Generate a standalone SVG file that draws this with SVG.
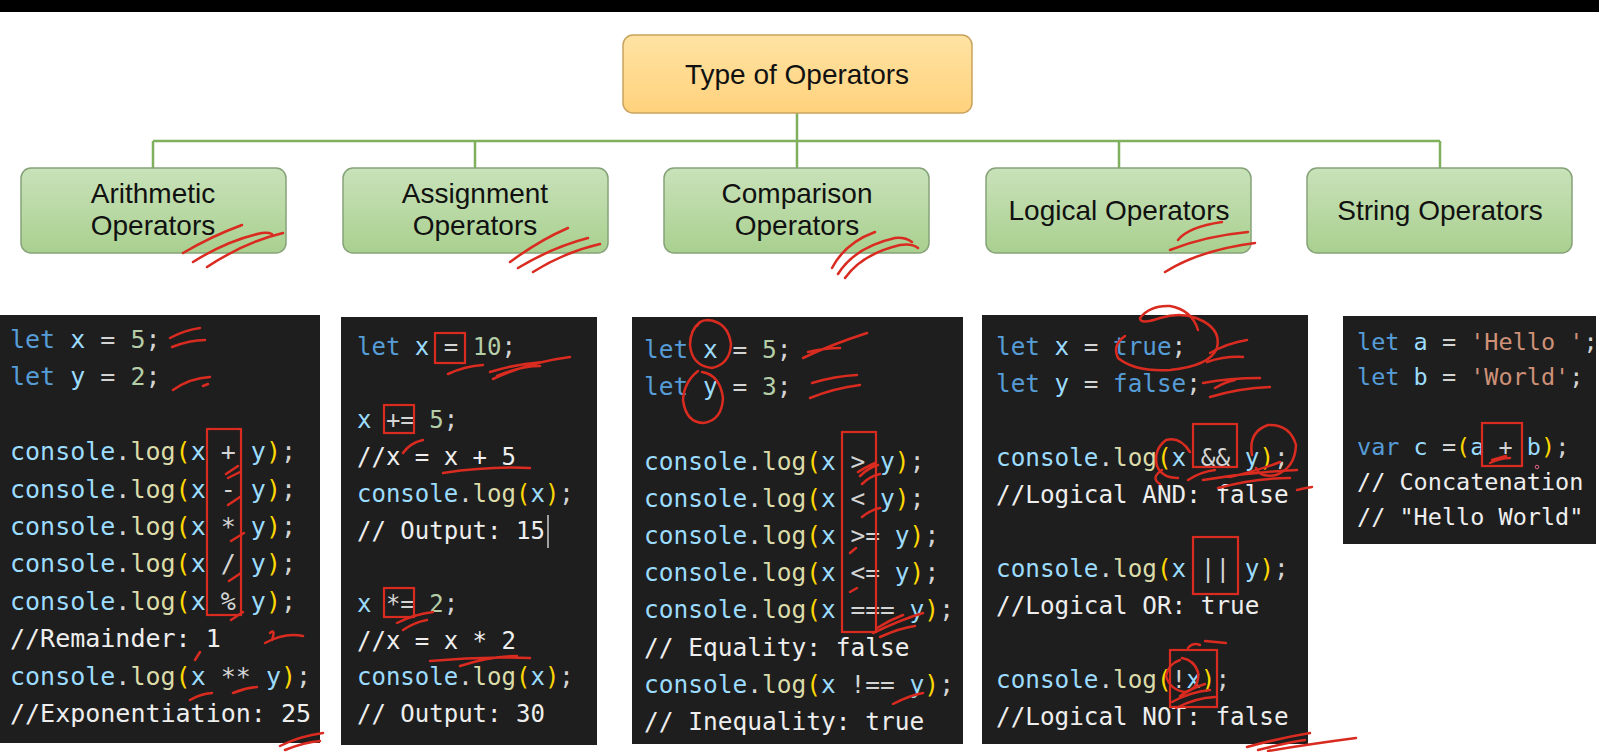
<svg xmlns="http://www.w3.org/2000/svg" width="1599" height="752" viewBox="0 0 1599 752">
<defs>
<linearGradient id="gTop" x1="0" y1="0" x2="0" y2="1"><stop offset="0" stop-color="#FFE3A3"/><stop offset="1" stop-color="#FFD27C"/></linearGradient>
<linearGradient id="gCat" x1="0" y1="0" x2="0" y2="1"><stop offset="0" stop-color="#C9E2BA"/><stop offset="1" stop-color="#A9D08F"/></linearGradient>
</defs>
<style>
.lbl{font-family:"Liberation Sans",Arial,sans-serif;font-size:28px;fill:#111;text-anchor:middle}
.cat{fill:url(#gCat);stroke:#86A278;stroke-width:1.5}
.conn{stroke:#7FB05C;stroke-width:2.5;fill:none}
.panel{fill:#1E1E1E}
.code{font-family:"DejaVu Sans Mono","Liberation Mono",monospace;white-space:pre;fill:#D4D4D4}
.k{fill:#569CD6}.v{fill:#9CDCFE}.n{fill:#B5CEA8}.f{fill:#DCDCAA}.p{fill:#FFD700}.c{fill:#EEEEEE}.s{fill:#CE9178}
.r{fill:none;stroke:#D92B20;stroke-width:2.5;stroke-linecap:round;stroke-linejoin:round}
.rb{fill:none;stroke:#D92B20;stroke-width:2.2}
</style>
<rect width="1599" height="752" fill="#FFFFFF"/>
<rect x="0" y="0" width="1599" height="12" fill="#000000"/>

<g id="connectors">
<path class="conn" d="M797,113 V141 M153,141 H1440 M153,141 V168 M475,141 V168 M797,141 V168 M1119,141 V168 M1440,141 V168"/>
</g>

<g id="node-root">
<rect x="623" y="35" width="349" height="78" rx="10" fill="url(#gTop)" stroke="#C9A35C" stroke-width="1.5"/>
<text class="lbl" x="797" y="84">Type of Operators</text>
</g>
<g id="node-arithmetic">
<rect class="cat" x="21" y="168" width="265" height="85" rx="10"/>
<text class="lbl" x="153" y="203">Arithmetic</text>
<text class="lbl" x="153" y="235">Operators</text>
<path class="r" d="M183,253 Q212,236 242,225 M193,262 Q228,240 262,233 Q268,232 272,234 M207,267 Q245,242 283,233"/>
</g>
<g id="node-assignment">
<rect class="cat" x="343" y="168" width="265" height="85" rx="10"/>
<text class="lbl" x="475" y="203">Assignment</text>
<text class="lbl" x="475" y="235">Operators</text>
<path class="r" d="M510,262 Q540,240 568,228 M518,268 Q553,247 588,238 M533,272 Q565,252 600,244"/>
</g>
<g id="node-comparison">
<rect class="cat" x="664" y="168" width="265" height="85" rx="10"/>
<text class="lbl" x="797" y="203">Comparison</text>
<text class="lbl" x="797" y="235">Operators</text>
<path class="r" d="M832,268 Q845,243 875,232 M838,274 Q855,247 895,238 Q905,237 912,242 M845,278 Q862,254 900,245 Q912,243 918,248"/>
</g>
<g id="node-logical">
<rect class="cat" x="986" y="168" width="265" height="85" rx="10"/>
<text class="lbl" x="1119" y="220">Logical Operators</text>
<path class="r" d="M1178,240 Q1188,227 1222,222 M1170,250 Q1205,236 1248,232 M1165,272 Q1200,250 1255,243"/>
</g>
<g id="node-string">
<rect class="cat" x="1307" y="168" width="265" height="85" rx="10"/>
<text class="lbl" x="1440" y="220">String Operators</text>
</g>

<g id="panel-arithmetic">
<rect class="panel" x="0" y="315" width="320" height="428"/>
<g class="code" font-size="25">
<text x="10" y="348"><tspan class="k">let</tspan> <tspan class="v">x</tspan> = <tspan class="n">5</tspan>;</text>
<text x="10" y="385.4"><tspan class="k">let</tspan> <tspan class="v">y</tspan> = <tspan class="n">2</tspan>;</text>
<text x="10" y="460.2"><tspan class="v">console</tspan>.<tspan class="f">log</tspan><tspan class="p">(</tspan><tspan class="v">x</tspan> + <tspan class="v">y</tspan><tspan class="p">)</tspan>;</text>
<text x="10" y="497.6"><tspan class="v">console</tspan>.<tspan class="f">log</tspan><tspan class="p">(</tspan><tspan class="v">x</tspan> - <tspan class="v">y</tspan><tspan class="p">)</tspan>;</text>
<text x="10" y="535"><tspan class="v">console</tspan>.<tspan class="f">log</tspan><tspan class="p">(</tspan><tspan class="v">x</tspan> * <tspan class="v">y</tspan><tspan class="p">)</tspan>;</text>
<text x="10" y="572.4"><tspan class="v">console</tspan>.<tspan class="f">log</tspan><tspan class="p">(</tspan><tspan class="v">x</tspan> / <tspan class="v">y</tspan><tspan class="p">)</tspan>;</text>
<text x="10" y="609.8"><tspan class="v">console</tspan>.<tspan class="f">log</tspan><tspan class="p">(</tspan><tspan class="v">x</tspan> % <tspan class="v">y</tspan><tspan class="p">)</tspan>;</text>
<text x="10" y="647.2" class="c">//Remainder: 1</text>
<text x="10" y="684.6"><tspan class="v">console</tspan>.<tspan class="f">log</tspan><tspan class="p">(</tspan><tspan class="v">x</tspan> ** <tspan class="v">y</tspan><tspan class="p">)</tspan>;</text>
<text x="10" y="722" class="c">//Exponentiation: 25</text>
</g>
<rect class="rb" x="207" y="429" width="34" height="186"/>
<path class="r" d="M170,338 Q185,330 200,328 M172,347 Q190,340 205,340 M173,390 Q190,378 210,377 M203,386 L208,384 M226,474 L238,466 M228,478 L240,472 M228,505 L240,497 M231,541 L244,533 M229,581 L241,573 M231,620 L243,612 M265,643 Q285,632 303,636 M270,633 Q276,628 272,640 M195,660 L200,652 M190,700 Q200,694 212,693 M233,693 Q245,688 257,687 M280,746 Q300,736 323,733 M285,750 Q305,742 320,741"/>
</g>

<g id="panel-assignment">
<rect class="panel" x="341" y="317" width="256" height="428"/>
<g class="code" font-size="24">
<text x="357" y="355"><tspan class="k">let</tspan> <tspan class="v">x</tspan> = <tspan class="n">10</tspan>;</text>
<text x="357" y="428.4"><tspan class="v">x</tspan> += <tspan class="n">5</tspan>;</text>
<text x="357" y="465.1" class="c">//x = x + 5</text>
<text x="357" y="501.8"><tspan class="v">console</tspan>.<tspan class="f">log</tspan><tspan class="p">(</tspan><tspan class="v">x</tspan><tspan class="p">)</tspan>;</text>
<text x="357" y="538.5" class="c">// Output: 15</text>
<text x="357" y="611.9"><tspan class="v">x</tspan> *= <tspan class="n">2</tspan>;</text>
<text x="357" y="648.6" class="c">//x = x * 2</text>
<text x="357" y="685.3"><tspan class="v">console</tspan>.<tspan class="f">log</tspan><tspan class="p">(</tspan><tspan class="v">x</tspan><tspan class="p">)</tspan>;</text>
<text x="357" y="722" class="c">// Output: 30</text>
</g>
<line x1="548" y1="515" x2="548" y2="548" stroke="#CCCCCC" stroke-width="1.5"/>
<rect class="rb" x="435" y="333" width="30" height="30"/>
<rect class="rb" x="384" y="405" width="30" height="28"/>
<rect class="rb" x="384" y="588" width="30" height="29"/>
<path class="r" d="M448,374 Q465,366 483,365 M490,372 Q515,364 543,362 M493,379 Q530,362 570,357 M497,376 Q520,366 540,366 M403,453 Q410,443 423,440 M443,473 Q490,466 530,468 M397,623 Q415,614 433,612 M403,630 Q415,622 427,620 M430,661 Q480,656 530,658 M460,666 Q490,656 517,656"/>
</g>

<g id="panel-comparison">
<rect class="panel" x="632" y="317" width="331" height="427"/>
<g class="code" font-size="24.5">
<text x="644" y="358"><tspan class="k">let</tspan> <tspan class="v">x</tspan> = <tspan class="n">5</tspan>;</text>
<text x="644" y="395.2"><tspan class="k">let</tspan> <tspan class="v">y</tspan> = <tspan class="n">3</tspan>;</text>
<text x="644" y="469.6"><tspan class="v">console</tspan>.<tspan class="f">log</tspan><tspan class="p">(</tspan><tspan class="v">x</tspan> &gt; <tspan class="v">y</tspan><tspan class="p">)</tspan>;</text>
<text x="644" y="506.8"><tspan class="v">console</tspan>.<tspan class="f">log</tspan><tspan class="p">(</tspan><tspan class="v">x</tspan> &lt; <tspan class="v">y</tspan><tspan class="p">)</tspan>;</text>
<text x="644" y="544"><tspan class="v">console</tspan>.<tspan class="f">log</tspan><tspan class="p">(</tspan><tspan class="v">x</tspan> &gt;= <tspan class="v">y</tspan><tspan class="p">)</tspan>;</text>
<text x="644" y="581.2"><tspan class="v">console</tspan>.<tspan class="f">log</tspan><tspan class="p">(</tspan><tspan class="v">x</tspan> &lt;= <tspan class="v">y</tspan><tspan class="p">)</tspan>;</text>
<text x="644" y="618.4"><tspan class="v">console</tspan>.<tspan class="f">log</tspan><tspan class="p">(</tspan><tspan class="v">x</tspan> === <tspan class="v">y</tspan><tspan class="p">)</tspan>;</text>
<text x="644" y="655.6" class="c">// Equality: false</text>
<text x="644" y="692.8"><tspan class="v">console</tspan>.<tspan class="f">log</tspan><tspan class="p">(</tspan><tspan class="v">x</tspan> !== <tspan class="v">y</tspan><tspan class="p">)</tspan>;</text>
<text x="644" y="730" class="c">// Inequality: true</text>
</g>
<rect class="rb" x="842" y="432" width="34" height="200"/>
<path class="r" d="M700,322 Q690,330 690,345 Q692,366 712,368 Q730,364 731,344 Q728,322 708,320 Q700,320 697,326"/>
<path class="r" d="M698,371 Q684,382 683,400 Q686,423 704,423 Q722,420 723,398 Q720,375 702,372"/>
<path class="r" d="M803,358 Q830,345 867,333 M808,352 Q825,348 840,348 M812,383 Q835,376 857,375 M810,398 Q835,388 860,385 M860,476 Q868,468 878,465 M858,472 Q868,466 875,463 M862,484 Q870,476 880,474 M862,517 Q870,510 880,508 M850,553 L856,548 M850,592 L857,588 M873,633 Q900,620 923,613 M877,628 Q890,620 903,615 M880,637 Q900,628 915,626 M893,704 Q908,696 923,693"/>
</g>

<g id="panel-logical">
<rect class="panel" x="982" y="315" width="326" height="429"/>
<g class="code" font-size="24.3">
<text x="996" y="355"><tspan class="k">let</tspan> <tspan class="v">x</tspan> = <tspan class="k">true</tspan>;</text>
<text x="996" y="392"><tspan class="k">let</tspan> <tspan class="v">y</tspan> = <tspan class="k">false</tspan>;</text>
<text x="996" y="466"><tspan class="v">console</tspan>.<tspan class="f">log</tspan><tspan class="p">(</tspan><tspan class="v">x</tspan> &amp;&amp; <tspan class="v">y</tspan><tspan class="p">)</tspan>;</text>
<text x="996" y="503" class="c">//Logical AND: false</text>
<text x="996" y="577"><tspan class="v">console</tspan>.<tspan class="f">log</tspan><tspan class="p">(</tspan><tspan class="v">x</tspan> || <tspan class="v">y</tspan><tspan class="p">)</tspan>;</text>
<text x="996" y="614" class="c">//Logical OR: true</text>
<text x="996" y="688"><tspan class="v">console</tspan>.<tspan class="f">log</tspan><tspan class="p">(</tspan>!<tspan class="v">x</tspan><tspan class="p">)</tspan>;</text>
<text x="996" y="725" class="c">//Logical NOT: false</text>
</g>
<rect class="rb" x="1193" y="424" width="44" height="43"/>
<rect class="rb" x="1193" y="537" width="45" height="57"/>
<rect class="rb" x="1170" y="650" width="47" height="57"/>
<path class="r" d="M1125,336 Q1112,345 1118,358 Q1135,372 1170,370 Q1210,366 1217,348 Q1222,328 1196,318 Q1180,312 1160,318 Q1140,325 1140,318 Q1150,305 1170,306 Q1192,310 1198,330"/>
<path class="r" d="M1210,353 Q1228,343 1247,340 M1207,362 Q1225,356 1243,357 M1203,383 Q1230,378 1260,378 M1210,397 Q1240,388 1270,387 M1215,388 Q1225,382 1235,380"/>
<path class="r" d="M1190,452 Q1180,436 1166,440 Q1153,450 1157,466 Q1162,478 1178,478 M1162,470 Q1150,478 1160,484"/>
<path class="r" d="M1252,455 Q1248,432 1268,425 Q1290,424 1296,445 Q1295,468 1276,475 Q1260,478 1256,468"/>
<path class="r" d="M1188,480 Q1200,472 1215,470 M1203,480 Q1250,472 1297,470 M1218,488 Q1255,478 1290,478 M1297,490 Q1305,488 1312,487 M1230,477 Q1260,470 1280,462"/>
<path class="r" d="M1180,660 Q1168,664 1166,676 Q1170,690 1185,692 Q1200,688 1198,672 Q1194,660 1182,658 M1188,648 Q1193,642 1200,645 M1205,641 L1226,643"/>
<path class="r" d="M1172,702 Q1190,692 1210,690 M1176,708 Q1195,698 1215,697 M1180,696 Q1192,688 1205,684"/>
<path class="r" d="M1247,747 Q1280,738 1310,733 M1258,750 Q1290,742 1305,740 M1268,751 Q1310,744 1356,738"/>
</g>

<g id="panel-string">
<rect class="panel" x="1343" y="316" width="253" height="228"/>
<g class="code" font-size="23.5">
<text x="1357" y="350"><tspan class="k">let</tspan> <tspan class="v">a</tspan> = <tspan class="s">'Hello '</tspan>;</text>
<text x="1357" y="385"><tspan class="k">let</tspan> <tspan class="v">b</tspan> = <tspan class="s">'World'</tspan>;</text>
<text x="1357" y="455"><tspan class="k">var</tspan> <tspan class="v">c</tspan> =<tspan class="p">(</tspan><tspan class="v">a</tspan> + <tspan class="v">b</tspan><tspan class="p">)</tspan>;</text>
<text x="1357" y="490" class="c">// Concatenation</text>
<text x="1357" y="525" class="c">// "Hello World"</text>
</g>
<rect class="rb" x="1482" y="423" width="40" height="43"/>
<path class="r" d="M1490,463 Q1500,458 1510,458 M1492,460 L1506,456"/>
<circle cx="1537" cy="467" r="1.8" fill="none" stroke="#E06080" stroke-width="1"/>
</g>
</svg>
